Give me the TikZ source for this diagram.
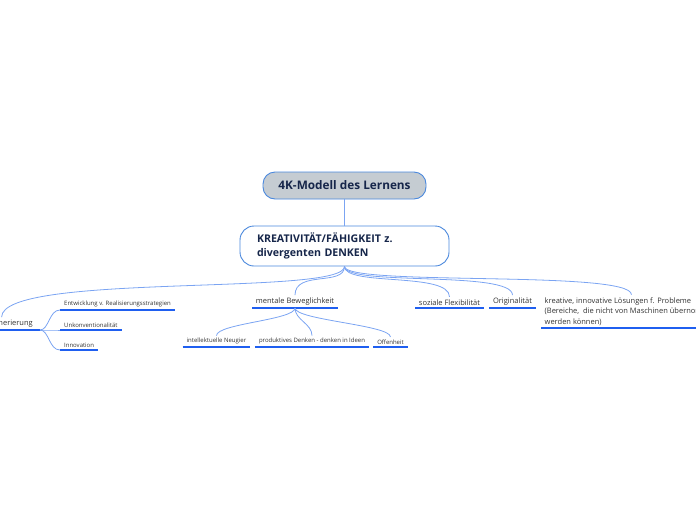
\documentclass[tikz,border=0pt]{standalone}
\usepackage{fontspec}
\setmainfont{Open Sans}
\usetikzlibrary{positioning}
\definecolor{mapline}{HTML}{7BA4F2}
\definecolor{mapbar}{HTML}{1F5FF0}
\definecolor{mapframe}{HTML}{4A88DD}
\definecolor{mapgray}{HTML}{C5CCD2}
\definecolor{mapnavy}{HTML}{16264A}
\definecolor{maptext}{HTML}{333333}
\begin{document}
\begin{tikzpicture}[x=1pt,y=-1pt,
  root/.style={draw=mapframe,line width=0.9pt,fill=mapgray,rounded corners=12pt,minimum width=163pt,minimum height=27pt,font=\bfseries\fontsize{11.8}{14}\selectfont,text=mapnavy},
  main/.style={draw=mapframe,line width=0.9pt,fill=white,rounded corners=14pt,text width=175pt,inner xsep=17pt,minimum height=40pt,align=left,font=\bfseries\fontsize{10.6}{14}\selectfont,text=mapnavy},
  topic/.style={inner xsep=3.5pt,inner ysep=2.5pt,font=\fontsize{7.5}{10.5}\selectfont,text=maptext},
  sub/.style={inner xsep=4pt,inner ysep=2.5pt,font=\fontsize{6}{7}\selectfont,text=maptext},
  uline/.style={draw=mapbar,line width=1.5pt},
  link/.style={draw=mapline,line width=0.8pt}]
\useasboundingbox (0,0) rectangle (696,520);
\clip (0,0) rectangle (696,520);
\node[root] (lernen) at (344.5,185.5) {4K-Modell des Lernens};
\node[main] (krea) at (344.5,246) {KREATIVITÄT/FÄHIGKEIT z.\\divergenten DENKEN};
\draw[link] (lernen) -- (krea);
\node[topic,anchor=south east,inner xsep=7pt] (gen) at (40,330) {Ideengenerierung};
\node[topic,anchor=south] (ment) at (295,308) {mentale Beweglichkeit};
\node[topic,anchor=south] (soz) at (449.5,308) {soziale Flexibilität};
\node[topic,anchor=south] (ori) at (512.5,308) {Originalität};
\node[topic,anchor=south west,align=left] (kre) at (541,328) {kreative, innovative Lösungen f. Probleme\\(Bereiche,\ \ die nicht von Maschinen übernommen\\werden können)};
\node[sub,anchor=south west] (ent) at (60,310) {Entwicklung v. Realisierungsstrategien};
\node[sub,anchor=south west] (unk) at (60,330) {Unkonventionalität};
\node[sub,anchor=south west] (inn) at (60,350) {Innovation};
\node[sub,anchor=south] (neu) at (216.5,347) {intellektuelle Neugier};
\node[sub,anchor=south] (prod) at (312,347) {produktives Denken - denken in Ideen};
\node[sub,anchor=south] (off) at (390.5,347) {Offenheit};
\foreach \n in {gen,ment,soz,ori,kre,ent,unk,inn,neu,prod,off}
  \draw[uline] (\n.south west) -- (\n.south east);
\draw[link] (krea.south) .. controls +(0,30) and +(0,-45) .. (gen.north);
\foreach \n in {ment,soz,ori,kre}
  \draw[link] (krea.south) .. controls +(0,20) and +(0,-25) .. (\n.north);
\foreach \n in {ent,unk,inn}
  \draw[link] (gen.south east) .. controls +(9,0) and +(-11,0) .. (\n.south west);
\foreach \n in {neu,prod,off}
  \draw[link] (ment.south) .. controls +(0,12) and +(0,-12) .. (\n.north);
\end{tikzpicture}
\end{document}
